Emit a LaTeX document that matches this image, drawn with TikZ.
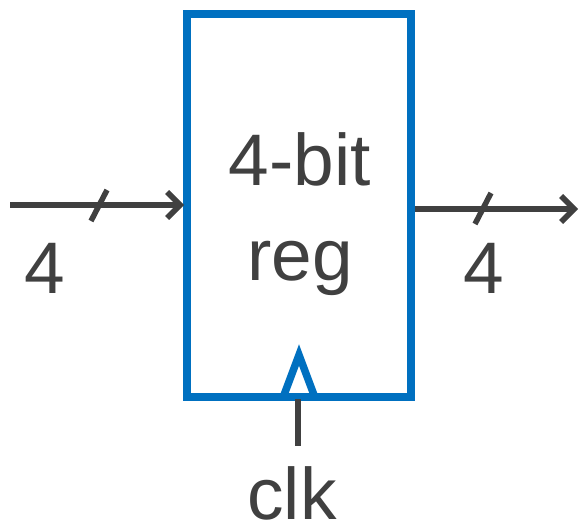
\documentclass[tikz,border=0pt]{standalone}
\usepackage{fontspec}
\setmainfont{Liberation Sans}
\usetikzlibrary{arrows.meta}
\definecolor{regblue}{HTML}{0070C0}
\definecolor{wire}{HTML}{404040}
\begin{document}
\begin{tikzpicture}[x=1pt,y=-1pt,
  wireline/.style={draw=wire,line width=5.5pt},
  arrowline/.style={wireline,-{Straight Barb[length=13pt,width=26pt,line width=5.5pt]}},
  lbl/.style={text=wire,font=\fontsize{73}{80}\selectfont,anchor=base,inner sep=0pt},
  regbox/.style={draw=regblue,line width=8pt,minimum width=224pt,minimum height=383pt,inner sep=0pt}]
\useasboundingbox (0,0) rectangle (579,527);
\node[regbox] (reg) at (299,205.5) {};
\node[lbl] (t1) at (300,185) {4-bit};
\node[lbl] (t2) at (300,280) {reg};
% input
\coordinate (inS) at (10,205);
\coordinate (inE) at (184,205);
\draw[arrowline] (inS) -- (inE);
\coordinate (s1a) at (91,221);
\coordinate (s1b) at (107,190);
\draw[wireline] (s1a) -- (s1b);
\node[lbl] (n1) at (45,293) {4};
% output
\coordinate (outS) at (415,209);
\coordinate (outE) at (578,209);
\draw[arrowline] (outS) -- (outE);
\coordinate (s2a) at (475,224);
\coordinate (s2b) at (491,193);
\draw[wireline] (s2a) -- (s2b);
\node[lbl] (n2) at (484,293) {4};
% clock
\coordinate (c1) at (284,395);
\coordinate (c2) at (299,355);
\coordinate (c3) at (314,395);
\draw[draw=regblue,line width=7.5pt,line join=miter] (c1) -- (c2) -- (c3);
\coordinate (clkTop) at (298,399);
\coordinate (clkBot) at (298,446);
\draw[wireline] (clkTop) -- (clkBot);
\node[lbl] (clk) at (292,519) {clk};
\end{tikzpicture}
\end{document}
